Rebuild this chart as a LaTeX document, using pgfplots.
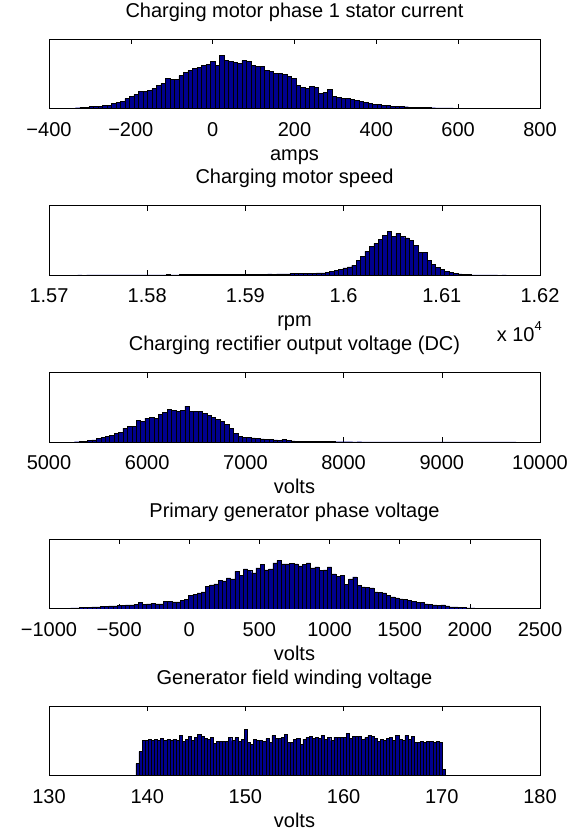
\documentclass[border=0pt]{standalone}
\usepackage{fontspec}
\setmainfont{Liberation Sans}
\usepackage{pgfplots}
\pgfplotsset{compat=1.18}
\definecolor{histblue}{RGB}{0,0,143}
\newcommand{\fs}{\fontsize{20}{24}\selectfont}
\pgfplotsset{
  histax/.style={
    scale only axis, width=491pt, height=69.5pt,
    anchor=north west,
    ymin=0, ymax=69.5,
    ytick=\empty,
    enlargelimits=false,
    xtick pos=both, tick align=inside, major tick length=5pt,
    axis line style={line width=0.8pt},
    every tick/.style={black, line width=0.6pt},
    title style={at={(axis description cs:0.5,1)}, anchor=base, yshift=16pt, font=\fs, inner sep=0pt},
    xlabel style={at={(axis description cs:0.5,0)}, anchor=base, yshift=-51.5pt, font=\fs, inner sep=0pt},
    xticklabel style={anchor=base, yshift=-27.5pt, font=\fs, inner sep=0pt},
  },
  histbars/.style={ybar, fill=histblue, draw=black, line width=0.4pt},
}
\begin{document}
\begin{tikzpicture}[x=1pt,y=1pt]
\path[use as bounding box] (0,0) rectangle (578,-831);
% Panel 1
\begin{axis}[histax, at={(49pt,-39pt)}, xmin=-400, xmax=800,
  xtick={-400,-200,0,200,400,600,800},
  xticklabels={−400,−200,0,200,400,600,800},
  title={Charging motor phase 1 stator current}, xlabel={amps}]
\addplot[histbars, bar width=11] coordinates {
(-352,0.3) (-341,0.5) (-330,0.8) (-319,1.2) (-308,1.5) (-297,2) (-286,2.5) (-275,2.5) (-264,3) (-253,3.5)
(-242,5) (-231,6) (-220,7) (-209,10) (-198,12) (-187,14) (-176,17) (-165,17.5) (-154,18) (-143,20)
(-132,23) (-121,25) (-110,30) (-99,29) (-88,29) (-77,33) (-66,36) (-55,38) (-44,40) (-33,41)
(-22,43) (-11,44) (0,47) (11,43) (22,53) (33,48) (44,47) (55,46) (66,45) (77,48)
(88,47) (99,43) (110,42) (121,42) (132,38) (143,37) (154,35) (165,35) (176,34) (187,32)
(198,30) (209,23) (220,21) (231,20) (242,22) (253,21) (264,15) (275,16) (286,19) (297,12)
(308,11) (319,10.5) (330,10) (341,9) (352,8) (363,7.5) (374,6) (385,5) (396,4.5) (407,4)
(418,3.5) (429,3) (440,2.5) (451,2.2) (462,2) (473,1.8) (484,1.5) (495,1.3) (506,1.2) (517,1)
(528,1) (539,0.8) (550,0.7) (561,0.7) (572,0.6) (583,0.6) (594,0.5) (605,0.5) (616,0.4) (627,0.3)
(638,0.3) (649,0.3) (660,0.2) (671,0.3) (682,0.2) (693,0.2) (704,0.2) (715,0.2) (726,0.1) (737,0.2)
};
\end{axis}
% Panel 2
\begin{axis}[histax, at={(49pt,-205.75pt)}, xmin=15700, xmax=16200,
  scaled x ticks=false,
  xtick={15700,15800,15900,16000,16100,16200},
  xticklabels={1.57,1.58,1.59,1.6,1.61,1.62},
  title={Charging motor speed}, xlabel={rpm}]
\addplot[histbars, bar width=4.5] coordinates {
(15727,0.2) (15731.5,0.3) (15736,0.2) (15740.5,0.3) (15745,0.3) (15749.5,0.3) (15754,0.4) (15758.5,0.3) (15763,0.3) (15767.5,0.4)
(15772,0.3) (15776.5,0.4) (15781,0.4) (15785.5,0.3) (15790,0.4) (15794.5,0.5) (15799,0.4) (15803.5,0.4) (15808,0.5) (15812.5,0.4)
(15817,0.5) (15821.5,0.6) (15826,0.5) (15830.5,0.5) (15835,0.6) (15839.5,0.7) (15844,0.6) (15848.5,0.6) (15853,0.8) (15857.5,0.6)
(15862,0.7) (15866.5,0.8) (15871,0.7) (15875.5,0.8) (15880,0.9) (15884.5,0.8) (15889,0.9) (15893.5,0.9) (15898,1.0) (15902.5,1.0)
(15907,1.1) (15911.5,1.0) (15916,1.2) (15920.5,1.1) (15925,1.3) (15929.5,1.2) (15934,1.4) (15938.5,1.5) (15943,1.3) (15947.5,1.6)
(15952,1.7) (15956.5,1.6) (15961,1.8) (15965.5,2.0) (15970,2.0) (15974.5,2.3) (15979,2.5) (15983.5,3.0) (15988,3.8) (15992.5,5.0)
(15997,6.0) (16001.5,7.5) (16006,8.5) (16010.5,10) (16015,15) (16019.5,19) (16024,24) (16028.5,29) (16033,32) (16037.5,36)
(16042,40) (16046.5,44) (16051,39) (16055.5,42) (16060,39) (16064.5,37.5) (16069,35) (16073.5,30) (16078,23) (16082.5,23)
(16087,15) (16091.5,11) (16096,8) (16100.5,5.7) (16105,4) (16109.5,2.7) (16114,2.0) (16118.5,1.5) (16123,1.0) (16127.5,0.7)
(16132,0.5) (16136.5,0.4) (16141,0.4) (16145.5,0.3) (16150,0.3) (16154.5,0.3) (16159,0.2) (16163.5,0.3) (16168,0.2) (16172.5,0.2)
};
\end{axis}
\node[anchor=base east, font=\fs, inner sep=0pt] at (542,-341) {x 10\raisebox{0.55em}{\fontsize{13}{15}\selectfont 4}};
% Panel 3
\begin{axis}[histax, at={(49pt,-372.5pt)}, xmin=5000, xmax=10000,
  scaled x ticks=false,
  xtick={5000,6000,7000,8000,9000,10000},
  xticklabels={5000,6000,7000,8000,9000,10000},
  title={Charging rectifier output voltage (DC)}, xlabel={volts}]
\addplot[histbars, bar width=45] coordinates {
(5280,0.3) (5325,0.5) (5370,0.8) (5415,1.5) (5460,2.2) (5505,3.7) (5550,4.5) (5595,5.5) (5640,7) (5685,9)
(5730,10) (5775,14) (5820,16) (5865,16) (5910,22) (5955,21) (6000,24) (6045,25) (6090,24) (6135,28)
(6180,30) (6225,33) (6270,32) (6315,31) (6360,32) (6405,36) (6450,31) (6495,31) (6540,31) (6585,29)
(6630,27) (6675,25) (6720,23) (6765,21) (6810,18) (6855,14) (6900,9) (6945,6) (6990,5) (7035,4.7)
(7080,4.2) (7125,3.7) (7170,3.2) (7215,2.7) (7260,2.5) (7305,2.2) (7350,2.0) (7395,2.7) (7440,1.5) (7485,1.2)
(7530,1.0) (7575,1.0) (7620,0.8) (7665,0.7) (7710,0.6) (7755,0.5) (7800,0.5) (7845,0.4) (7890,0.4) (7935,0.3)
(7980,0.3) (8025,0.3) (8070,0.3) (8115,0.2) (8160,0.3) (8205,0.2) (8250,0.2) (8295,0.2) (8340,0.2) (8385,0.1)
(8430,0.2) (8475,0.1) (8520,0.1) (8565,0.1) (8610,0.1) (8655,0.1) (8700,0.1) (8745,0.1) (8790,0.1) (8835,0.1)
(8880,0.1) (8925,0.1) (8970,0.1) (9015,0.1) (9060,0.1) (9105,0.1) (9150,0.1) (9195,0.1) (9240,0.1) (9285,0.1)
(9330,0.1) (9375,0.1) (9420,0.1) (9465,0.1) (9510,0.1) (9555,0.1) (9600,0.1) (9645,0.1) (9690,0.1) (9735,0.1)
};
\end{axis}
% Panel 4
\begin{axis}[histax, at={(49pt,-539.25pt)}, xmin=-1000, xmax=2500,
  scaled x ticks=false,
  xtick={-1000,-500,0,500,1000,1500,2000,2500},
  xticklabels={−1000,−500,0,500,1000,1500,2000,2500},
  title={Primary generator phase voltage}, xlabel={volts}]
\addplot[histbars, bar width=30] coordinates {
(-890,0.5) (-860,0.7) (-830,0.8) (-800,1.0) (-770,1.2) (-740,1.3) (-710,1.5) (-680,1.8) (-650,2.0) (-620,2.3)
(-590,2.5) (-560,2.8) (-530,3.0) (-500,3.3) (-470,3.5) (-440,4.0) (-410,3.8) (-380,4.2) (-350,6.2) (-320,4.5)
(-290,4.8) (-260,5.2) (-230,5.0) (-200,4.8) (-170,7.5) (-140,7.5) (-110,7.0) (-80,6.8) (-50,8.5) (-20,9.2)
(10,13.5) (40,14.5) (70,16) (100,17) (130,22.5) (160,24) (190,25) (220,28.5) (250,28) (280,31)
(310,30) (340,37.5) (370,33.5) (400,40) (430,38.5) (460,36) (490,41) (520,44.5) (550,39) (580,40)
(610,46) (640,48.5) (670,45) (700,45) (730,45.5) (760,45) (790,43) (820,44.5) (850,46) (880,41)
(910,42) (940,38.5) (970,39) (1000,42) (1030,35) (1060,32.5) (1090,33.5) (1120,24.5) (1150,30) (1180,32)
(1210,23.5) (1240,22) (1270,21.5) (1300,21) (1330,17) (1360,16.5) (1390,16) (1420,13.5) (1450,12) (1480,11)
(1510,10) (1540,9.5) (1570,8.5) (1600,7.5) (1630,6.5) (1660,6.2) (1690,5) (1720,4.5) (1750,4) (1780,3.5)
(1810,4) (1840,3) (1870,2) (1900,1.8) (1930,1.5) (1960,1.2) (1990,1) (2020,0.8) (2050,0.6) (2080,0.5)
};
\end{axis}
% Panel 5
\begin{axis}[histax, at={(49pt,-706pt)}, xmin=130, xmax=180,
  xtick={130,140,150,160,170,180},
  xticklabels={130,140,150,160,170,180},
  title={Generator field winding voltage}, xlabel={volts}]
\addplot[histbars, bar width=0.315] coordinates {
(139.000,12) (139.315,24) (139.630,35) (139.945,35.5) (140.260,36) (140.575,35) (140.890,36.5) (141.205,35.5) (141.520,37) (141.835,35)
(142.150,36) (142.465,35.5) (142.780,36.5) (143.095,35.5) (143.410,40) (143.725,34.5) (144.040,36) (144.355,39) (144.670,35.5) (144.985,38)
(145.300,41) (145.615,39) (145.930,37) (146.245,36.5) (146.560,38) (146.875,32) (147.190,34) (147.505,34.5) (147.820,34) (148.135,34.5)
(148.450,38) (148.765,35) (149.080,38) (149.395,34) (149.710,36.5) (150.025,46) (150.340,33) (150.655,31) (150.970,36) (151.285,35.5)
(151.600,35.5) (151.915,34) (152.230,37) (152.545,33) (152.860,40) (153.175,37) (153.490,37) (153.805,38) (154.120,41) (154.435,33)
(154.750,33.5) (155.065,36) (155.380,37) (155.695,31) (156.010,36.5) (156.325,38) (156.640,39) (156.955,37) (157.270,38) (157.585,37)
(157.900,40) (158.215,36) (158.530,38) (158.845,35) (159.160,38.5) (159.475,38) (159.790,38.5) (160.105,38.5) (160.420,42) (160.735,37)
(161.050,39) (161.365,39) (161.680,39) (161.995,36) (162.310,38) (162.625,40) (162.940,39) (163.255,37) (163.570,34) (163.885,36.5)
(164.200,35.5) (164.515,37) (164.830,38) (165.145,35) (165.460,40) (165.775,36) (166.090,35.5) (166.405,40) (166.720,36) (167.035,39)
(167.350,33) (167.665,33.5) (167.980,34) (168.295,33.5) (168.610,34.5) (168.925,34) (169.240,33) (169.555,34) (169.870,33) (170.185,6)
};
\end{axis}
\end{tikzpicture}
\end{document}
